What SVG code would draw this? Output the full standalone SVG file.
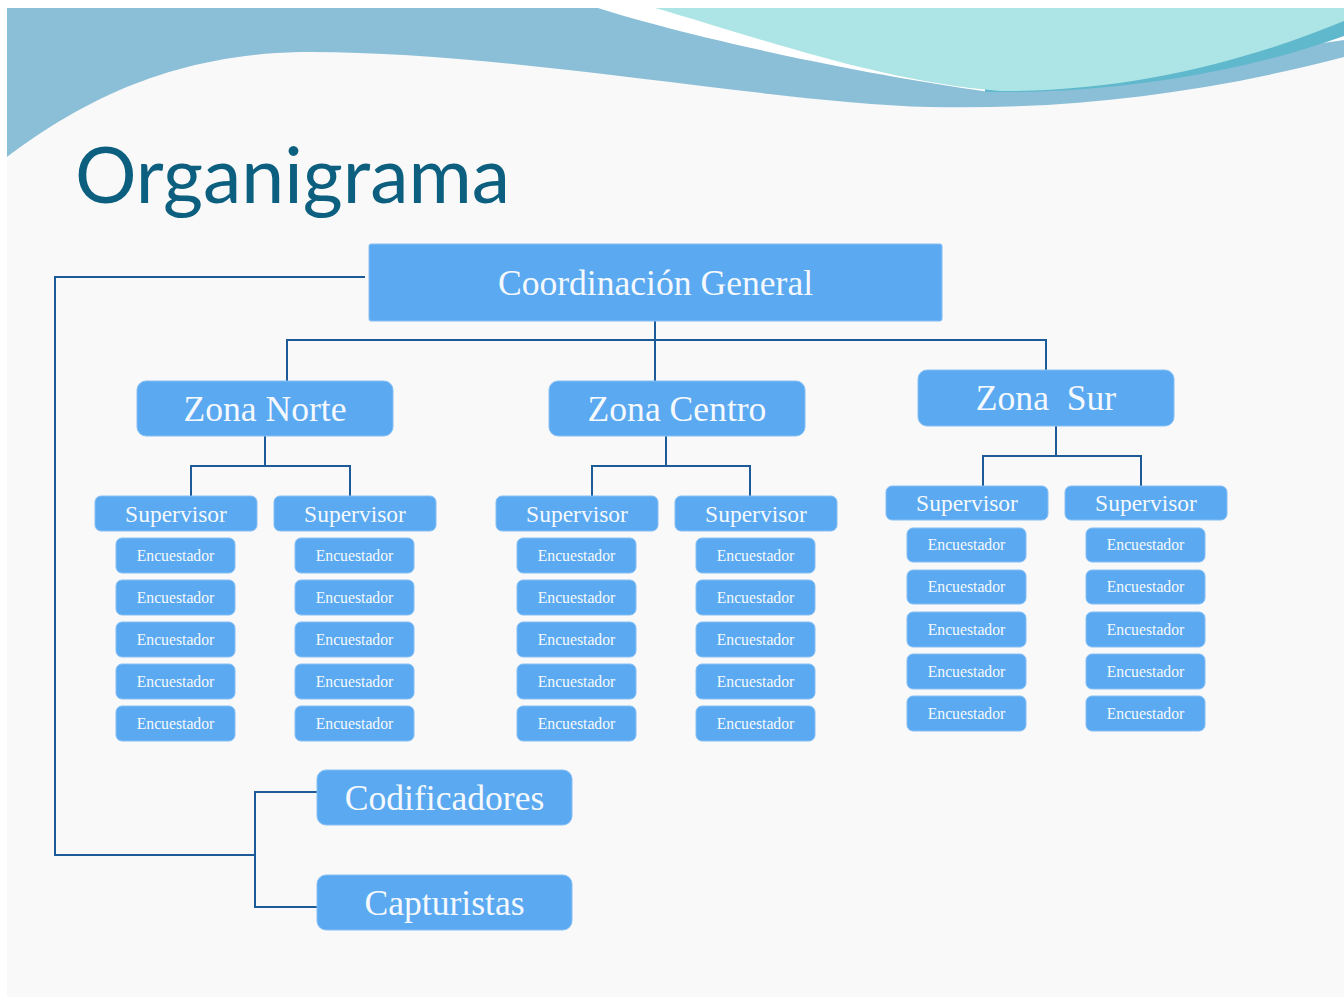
<svg xmlns="http://www.w3.org/2000/svg" width="1344" height="999" viewBox="0 0 1344 999">
<style>
.box{fill:#5aa9f1;stroke:#86bff4;stroke-width:1}
.t{fill:#f5f9fd;font-family:"Liberation Serif","Times New Roman",serif;text-anchor:middle}
.big{font-size:35.6px}
.sup{font-size:23.5px}
.enc{font-size:15.7px}
.con{fill:none;stroke:#1d5b98;stroke-width:2}
</style>
<rect x="0" y="0" width="1344" height="999" fill="#ffffff"/>
<rect x="7" y="8" width="1337" height="989" fill="#f9f9f9"/>
<g id="waves">
<path d="M7,8 H1344 V57 C1200,95 1060,110 930,107 C760,102 500,50 300,52 C160,55 70,110 7,157 Z" fill="#8bbfd7"/>
<path d="M598,8 C640,22 800,65 990,92 L1344,40 V8 Z" fill="#ffffff"/>
<path d="M985,92 C1120,94 1250,70 1344,36 V8 H985 Z" fill="#5fb8cc"/>
<path d="M655,8 C750,35 880,82 1000,91 C1130,92 1250,60 1344,21 V8 Z" fill="#ade4e5"/>
</g>
<text id="title" x="75" y="203" font-family="Lato,'Open Sans',sans-serif" font-size="78" fill="#0c5f7e" textLength="435" lengthAdjust="spacingAndGlyphs">Organigrama</text>
<g id="connectors">
<path class="con" d="M655,321 V340 M287,381 V340 H1046 V370 M655,340 V381"/>
<path class="con" d="M365,277 H55 V855 H255 M317,792 H255 V907 H317"/>
<path class="con" d="M265,436 V466 M191,496 V466 H350 V496"/>
<path class="con" d="M666,436 V466 M592,496 V466 H750 V496"/>
<path class="con" d="M1056,426 V456 M983,486 V456 H1141 V486"/>
</g>
<g id="coordinacion"><rect class="box" x="369" y="244" width="573" height="77" rx="2"/><text class="t big" x="655.5" y="295">Coordinación General</text></g>
<g id="zona-norte"><rect class="box" x="137" y="381" width="256" height="55" rx="9"/><text class="t big" x="265" y="421">Zona Norte</text></g>
<g id="zona-centro"><rect class="box" x="549" y="381" width="256" height="55" rx="9"/><text class="t big" x="677" y="421">Zona Centro</text></g>
<g id="zona-sur"><rect class="box" x="918" y="370" width="256" height="56" rx="9"/><text class="t big" x="1046" y="410" xml:space="preserve">Zona  Sur</text></g>
<g id="sup-n1"><rect class="box" x="95" y="496" width="162" height="35" rx="6"/><text class="t sup" x="176" y="522">Supervisor</text></g>
<g id="sup-n2"><rect class="box" x="274" y="496" width="162" height="35" rx="6"/><text class="t sup" x="355" y="522">Supervisor</text></g>
<g id="sup-c1"><rect class="box" x="496" y="496" width="162" height="35" rx="6"/><text class="t sup" x="577" y="522">Supervisor</text></g>
<g id="sup-c2"><rect class="box" x="675" y="496" width="162" height="35" rx="6"/><text class="t sup" x="756" y="522">Supervisor</text></g>
<g id="sup-s1"><rect class="box" x="886" y="486" width="162" height="34" rx="6"/><text class="t sup" x="967" y="511">Supervisor</text></g>
<g id="sup-s2"><rect class="box" x="1065" y="486" width="162" height="34" rx="6"/><text class="t sup" x="1146" y="511">Supervisor</text></g>
<g id="enc-n1">
<rect class="box" x="116" y="538" width="119" height="35" rx="6"/><text class="t enc" x="175.5" y="561">Encuestador</text>
<rect class="box" x="116" y="580" width="119" height="35" rx="6"/><text class="t enc" x="175.5" y="603">Encuestador</text>
<rect class="box" x="116" y="622" width="119" height="35" rx="6"/><text class="t enc" x="175.5" y="645">Encuestador</text>
<rect class="box" x="116" y="664" width="119" height="35" rx="6"/><text class="t enc" x="175.5" y="687">Encuestador</text>
<rect class="box" x="116" y="706" width="119" height="35" rx="6"/><text class="t enc" x="175.5" y="729">Encuestador</text>
</g>
<g id="enc-n2">
<rect class="box" x="295" y="538" width="119" height="35" rx="6"/><text class="t enc" x="354.5" y="561">Encuestador</text>
<rect class="box" x="295" y="580" width="119" height="35" rx="6"/><text class="t enc" x="354.5" y="603">Encuestador</text>
<rect class="box" x="295" y="622" width="119" height="35" rx="6"/><text class="t enc" x="354.5" y="645">Encuestador</text>
<rect class="box" x="295" y="664" width="119" height="35" rx="6"/><text class="t enc" x="354.5" y="687">Encuestador</text>
<rect class="box" x="295" y="706" width="119" height="35" rx="6"/><text class="t enc" x="354.5" y="729">Encuestador</text>
</g>
<g id="enc-c1">
<rect class="box" x="517" y="538" width="119" height="35" rx="6"/><text class="t enc" x="576.5" y="561">Encuestador</text>
<rect class="box" x="517" y="580" width="119" height="35" rx="6"/><text class="t enc" x="576.5" y="603">Encuestador</text>
<rect class="box" x="517" y="622" width="119" height="35" rx="6"/><text class="t enc" x="576.5" y="645">Encuestador</text>
<rect class="box" x="517" y="664" width="119" height="35" rx="6"/><text class="t enc" x="576.5" y="687">Encuestador</text>
<rect class="box" x="517" y="706" width="119" height="35" rx="6"/><text class="t enc" x="576.5" y="729">Encuestador</text>
</g>
<g id="enc-c2">
<rect class="box" x="696" y="538" width="119" height="35" rx="6"/><text class="t enc" x="755.5" y="561">Encuestador</text>
<rect class="box" x="696" y="580" width="119" height="35" rx="6"/><text class="t enc" x="755.5" y="603">Encuestador</text>
<rect class="box" x="696" y="622" width="119" height="35" rx="6"/><text class="t enc" x="755.5" y="645">Encuestador</text>
<rect class="box" x="696" y="664" width="119" height="35" rx="6"/><text class="t enc" x="755.5" y="687">Encuestador</text>
<rect class="box" x="696" y="706" width="119" height="35" rx="6"/><text class="t enc" x="755.5" y="729">Encuestador</text>
</g>
<g id="enc-s1">
<rect class="box" x="907" y="528" width="119" height="34" rx="6"/><text class="t enc" x="966.5" y="550">Encuestador</text>
<rect class="box" x="907" y="570" width="119" height="34" rx="6"/><text class="t enc" x="966.5" y="592">Encuestador</text>
<rect class="box" x="907" y="612" width="119" height="35" rx="6"/><text class="t enc" x="966.5" y="635">Encuestador</text>
<rect class="box" x="907" y="654" width="119" height="35" rx="6"/><text class="t enc" x="966.5" y="677">Encuestador</text>
<rect class="box" x="907" y="696" width="119" height="35" rx="6"/><text class="t enc" x="966.5" y="719">Encuestador</text>
</g>
<g id="enc-s2">
<rect class="box" x="1086" y="528" width="119" height="34" rx="6"/><text class="t enc" x="1145.5" y="550">Encuestador</text>
<rect class="box" x="1086" y="570" width="119" height="34" rx="6"/><text class="t enc" x="1145.5" y="592">Encuestador</text>
<rect class="box" x="1086" y="612" width="119" height="35" rx="6"/><text class="t enc" x="1145.5" y="635">Encuestador</text>
<rect class="box" x="1086" y="654" width="119" height="35" rx="6"/><text class="t enc" x="1145.5" y="677">Encuestador</text>
<rect class="box" x="1086" y="696" width="119" height="35" rx="6"/><text class="t enc" x="1145.5" y="719">Encuestador</text>
</g>
<g id="codificadores"><rect class="box" x="317" y="770" width="255" height="55" rx="9"/><text class="t big" x="444.5" y="810">Codificadores</text></g>
<g id="capturistas"><rect class="box" x="317" y="875" width="255" height="55" rx="9"/><text class="t big" x="444.5" y="915">Capturistas</text></g>
</svg>
